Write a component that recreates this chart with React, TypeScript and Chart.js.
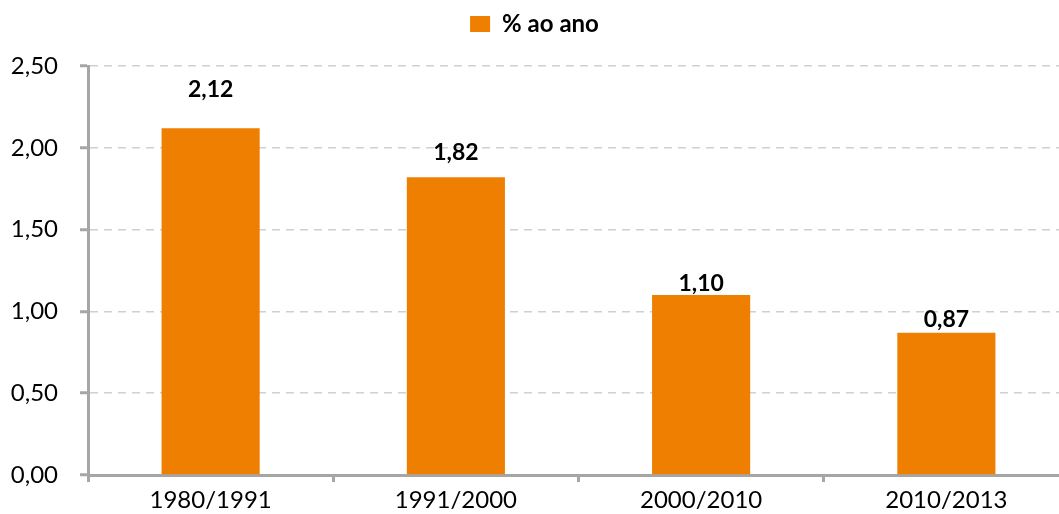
import React, { useEffect, useRef } from "react";
import { Chart, registerables } from "chart.js";

Chart.register(...registerables);

const categories = ["1980/1991", "1991/2000", "2000/2010", "2010/2013"];
const values = [2.12, 1.82, 1.1, 0.87];
const seriesLabel = "% ao ano";

const fmt = (v: number) => v.toFixed(2).replace(".", ",");

const labelPlugin = {
  id: "barLabels",
  afterDatasetsDraw(chart: any, _args: any, opts: any) {
    const ctx = chart.ctx;
    const meta = chart.getDatasetMeta(0);
    const offsets: number[] = opts.offsets || [];
    ctx.save();
    ctx.font = "bold 23px Lato";
    ctx.fillStyle = "#000000";
    ctx.textAlign = "center";
    ctx.textBaseline = "middle";
    meta.data.forEach((bar: any, i: number) => {
      const v = chart.data.datasets[0].data[i] as number;
      ctx.fillText(fmt(v), bar.x, bar.y - (offsets[i] ?? 15));
    });
    ctx.restore();
  },
};

const legendSpacing = {
  id: "legendSpacing",
  beforeInit(chart: any) {
    const legend = chart.legend;
    if (!legend) return;
    const orig = legend.fit;
    legend.fit = function () {
      orig.call(this);
      this.height += 20;
    };
  },
};

export default function App() {
  const ref = useRef<HTMLCanvasElement>(null);
  useEffect(() => {
    document.body.style.margin = "0";
    const chart = new Chart(ref.current!, {
      type: "bar",
      data: {
        labels: categories,
        datasets: [
          {
            label: seriesLabel,
            data: values,
            backgroundColor: "#EE7F00",
            borderWidth: 0,
            barPercentage: 0.4,
            categoryPercentage: 1,
          },
        ],
      },
      options: {
        animation: false,
        responsive: false,
        layout: { padding: { left: 0, right: 0, top: 0, bottom: 0 } },
        plugins: {
          legend: {
            position: "top",
            labels: {
              boxWidth: 20,
              boxHeight: 16,
              color: "#000000",
              font: { family: "Lato", size: 24, weight: "bold" },
              padding: 12,
            },
          },
          tooltip: { enabled: false },
          barLabels: { offsets: [39, 25, 11, 13] },
        } as any,
        scales: {
          x: {
            afterFit: (s: any) => {
              s.height = 39;
            },
            grid: {
              offset: true,
              drawOnChartArea: false,
              drawTicks: true,
              tickLength: 7,
              tickColor: "#A6A6A6",
              tickWidth: 3,
              color: "#A6A6A6",
            },
            border: { color: "#A6A6A6", width: 3 },
            ticks: {
              color: "#000000",
              font: { family: "Lato", size: 24 },
              padding: 4,
            },
          },
          y: {
            min: 0,
            max: 2.5,
            afterFit: (s: any) => {
              s.width = 88;
            },
            ticks: {
              stepSize: 0.5,
              color: "#000000",
              font: { family: "Lato", size: 24 },
              padding: 22,
              callback: (v: any) => fmt(Number(v)),
            },
            grid: {
              color: "#D0D0D0",
              lineWidth: 1.5,
              tickColor: "#A6A6A6",
              tickWidth: 3,
              tickLength: 8,
            },
            border: { color: "#A6A6A6", width: 3, dash: [8, 6] },
          },
        },
      },
      plugins: [labelPlugin, legendSpacing],
    });
    return () => chart.destroy();
  }, []);
  return (
    <div style={{ width: 1059, height: 514, overflow: "hidden" }}>
      <canvas ref={ref} width={1069} height={514} />
    </div>
  );
}
